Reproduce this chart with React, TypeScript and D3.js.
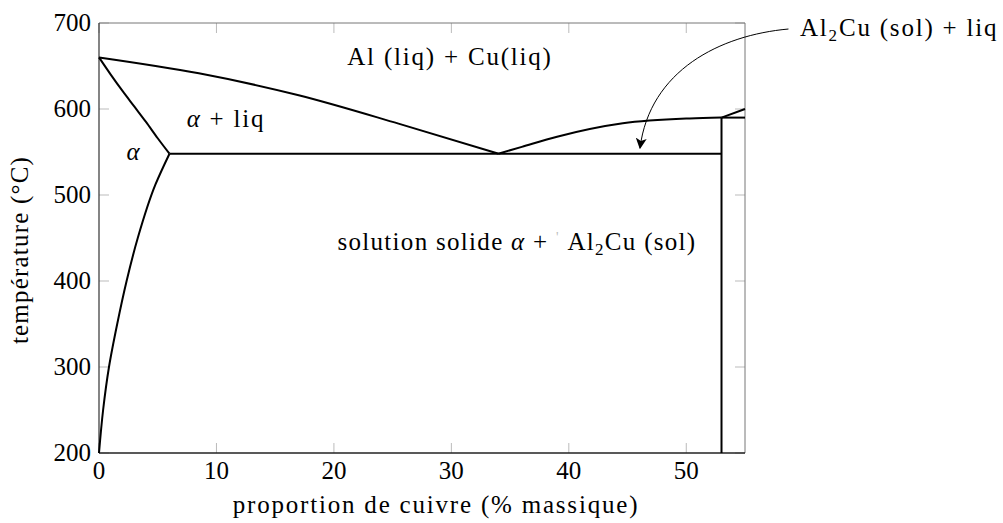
import React from 'react'
import * as d3 from 'd3'

// phase boundaries of the Al-Cu diagram (x: % Cu by mass, y: temperature in °C)
const liquidusAlpha: [number, number][] = [[0, 660], [8.5, 641.5], [17, 616], [25.5, 583], [34, 548]]
const solidusAlpha: [number, number][] = [[0, 660], [1, 640], [2, 621], [3, 603], [4, 585], [5, 566], [6, 548]]
const solvusAlpha: [number, number][] = [[6, 548], [4.8, 512], [3.3, 450], [2.35, 400], [1.55, 350], [0.85, 300], [0.35, 250], [0, 200]]
const liquidusTheta: [number, number][] = [[34, 548], [36, 556], [39, 567.8], [44.6, 583.4], [50.3, 589], [53, 590]]
const thetaUpper: [number, number][] = [[53, 590], [55, 600]]
const thetaFlat: [number, number][] = [[53, 590], [55, 590]]
const thetaLine: [number, number][] = [[53, 590], [53, 200]]
const eutectic: [number, number][] = [[6, 548], [53, 548]]

const xTicks = [0, 10, 20, 30, 40, 50]
const yTicks = [200, 300, 400, 500, 600, 700]

// annotation arrow: start, two control points, tip
const arrowPts: [number, number][] = [[58.7, 693], [52.9, 686], [46.9, 645], [46.06, 554.6]]

const width = 1003, height = 523
const left = 99, right = 745, top = 23, bottom = 453
const font = "'Liberation Serif', 'Times New Roman', serif"
const fs = 25
const ls = 1.8

const x = d3.scaleLinear().domain([0, 55]).range([left, right])
const y = d3.scaleLinear().domain([200, 700]).range([bottom, top])

const lineX = d3.line<[number, number]>()
    .x(d => x(d[0]))
    .y(d => y(d[1]))
    .curve(d3.curveMonotoneX)

const lineY = d3.line<[number, number]>()
    .x(d => x(d[0]))
    .y(d => y(d[1]))
    .curve(d3.curveMonotoneY)

const straight = d3.line<[number, number]>()
    .x(d => x(d[0]))
    .y(d => y(d[1]))

export default function App() {
    const [p0, c1, c2, p1] = arrowPts.map(d => [x(d[0]), y(d[1])])
    const arrowPath = `M${p0[0]},${p0[1]} C${c1[0]},${c1[1]} ${c2[0]},${c2[1]} ${p1[0]},${p1[1]}`

    return (
        <svg width={width} height={height} style={{ position: 'absolute', left: 0, top: 0, background: '#fff' }}
            fontFamily={font} fontSize={fs}>
            <defs>
                <marker id="tip" viewBox="0 0 10 10" refX="9" refY="5" markerWidth="11" markerHeight="11"
                    markerUnits="userSpaceOnUse" orient="auto">
                    <path d="M0,0 L10,5 L0,10 L2.5,5 Z" fill="#000" />
                </marker>
            </defs>

            {/* ticks, both sides */}
            <g stroke="#bbb" strokeWidth={1}>
                {xTicks.map(t => (
                    <g key={'xt' + t}>
                        <line x1={x(t)} x2={x(t)} y1={bottom} y2={bottom - 10} />
                        <line x1={x(t)} x2={x(t)} y1={top} y2={top + 10} />
                    </g>
                ))}
                {yTicks.map(t => (
                    <g key={'yt' + t}>
                        <line x1={left} x2={left + 10} y1={y(t)} y2={y(t)} />
                        <line x1={right} x2={right - 10} y1={y(t)} y2={y(t)} />
                    </g>
                ))}
            </g>

            {/* frame */}
            <line x1={left} x2={right} y1={top} y2={top} stroke="#777" strokeWidth={1} />
            <line x1={right} x2={right} y1={top} y2={bottom} stroke="#777" strokeWidth={1} />
            <line x1={left} x2={left} y1={top} y2={bottom} stroke="#333" strokeWidth={1.2} />
            <line x1={left} x2={right} y1={bottom} y2={bottom} stroke="#222" strokeWidth={1.4} />

            {/* phase boundaries */}
            <g fill="none" stroke="#000" strokeWidth={2}>
                <path d={lineX(liquidusAlpha) || ''} />
                <path d={lineX(solidusAlpha) || ''} />
                <path d={lineY(solvusAlpha) || ''} />
                <path d={lineX(liquidusTheta) || ''} />
                <path d={straight(thetaUpper) || ''} />
                <path d={straight(thetaFlat) || ''} />
                <path d={straight(thetaLine) || ''} />
                <path d={straight(eutectic) || ''} />
            </g>

            {/* tick labels */}
            {xTicks.map(t => (
                <text key={'xl' + t} x={x(t)} y={479} textAnchor="middle">{t}</text>
            ))}
            {yTicks.map(t => (
                <text key={'yl' + t} x={91} y={y(t) + 8} textAnchor="end">{t}</text>
            ))}

            {/* axis titles */}
            <g letterSpacing={ls}>
                <text x={436} y={513} textAnchor="middle">proportion de cuivre (% massique)</text>
                <text transform={`translate(28, 250) rotate(-90)`} textAnchor="middle" letterSpacing={1.2}>température (°C)</text>

                {/* region labels */}
                <text x={450} y={65} textAnchor="middle">Al (liq) + Cu(liq)</text>
                <text x={226} y={127} textAnchor="middle"><tspan fontStyle="italic">α</tspan> + liq</text>
                <text x={134} y={160} textAnchor="middle" fontStyle="italic">α</text>
                <text x={517} y={250} textAnchor="middle" letterSpacing={1.3}>
                    solution solide <tspan fontStyle="italic">α</tspan> + <tspan fill="#bbb" fontSize={14} dy={-8}>'</tspan>
                    <tspan dy={8}> Al</tspan><tspan fontSize={17} dy={5}>2</tspan><tspan dy={-5}>Cu (sol)</tspan>
                </text>
                <text x={800} y={36} textAnchor="start">
                    Al<tspan fontSize={17} dy={5}>2</tspan><tspan dy={-5}>Cu (sol) + liq</tspan>
                </text>
            </g>

            {/* annotation arrow */}
            <path d={arrowPath} fill="none" stroke="#000" strokeWidth={1} markerEnd="url(#tip)" />
        </svg>
    )
}
